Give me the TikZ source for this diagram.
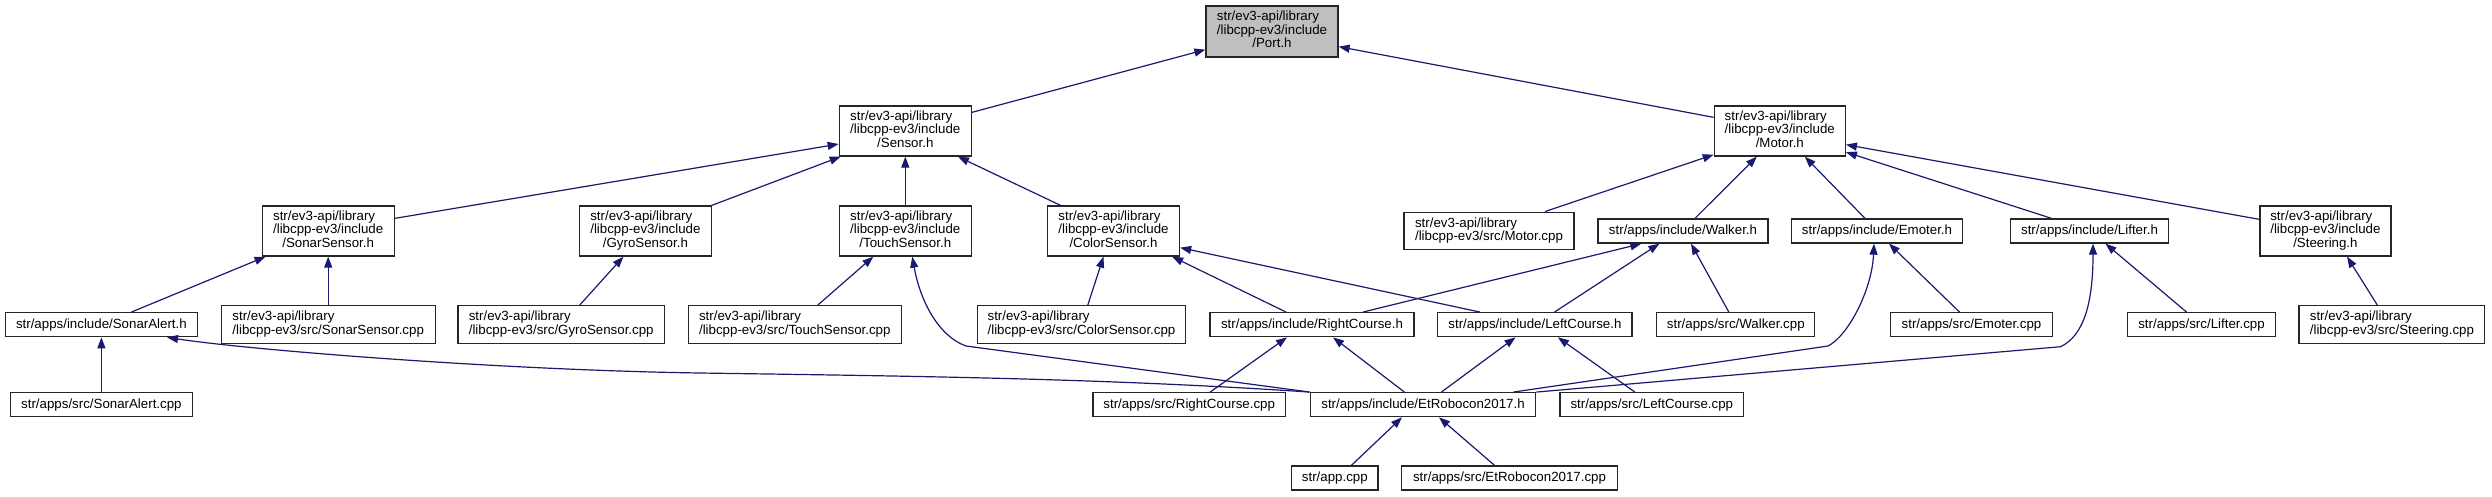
\documentclass[tikz,border=0pt]{standalone}
\usepackage{fontspec}
\setmainfont{Liberation Sans}
\usetikzlibrary{arrows.meta,calc}
\definecolor{edgeblue}{RGB}{25,25,112}
\definecolor{portgray}{RGB}{191,191,191}
\newcommand{\boxthree}[3]{\begin{tabular}{@{}l@{}}#1\\#2\\\multicolumn{1}{@{}c@{}}{#3}\end{tabular}}
\newcommand{\boxtwo}[2]{\begin{tabular}{@{}l@{}}#1\\\multicolumn{1}{@{}c@{}}{#2}\end{tabular}}
\begin{document}
\begin{tikzpicture}[x=1pt,y=-1pt,
  fnode/.style={draw=black!85, line width=1.3pt, fill=white, inner sep=0pt, rectangle,
    font=\fontsize{13.3}{13.3}\selectfont, text=black},
  three/.style={fnode, minimum height=50pt},
  two/.style={fnode, minimum height=37.6pt},
  one/.style={fnode, minimum height=24pt},
  edge/.style={draw=edgeblue, line width=1.2pt, -{Triangle[length=11pt,width=8pt]}}]
\useasboundingbox (0,0) rectangle (2492,496);
\fill[white] (0,0) rectangle (2492,496);
% nodes
\node[three, fill=portgray, minimum width=132pt, minimum height=51pt] (port) at (1272,31.5) {\boxthree{str/ev3-api/library}{/libcpp-ev3/include}{/Port.h}};
\node[three, minimum width=132pt] (sensor) at (905.3,131) {\boxthree{str/ev3-api/library}{/libcpp-ev3/include}{/Sensor.h}};
\node[three, minimum width=131pt] (motor) at (1779.8,131) {\boxthree{str/ev3-api/library}{/libcpp-ev3/include}{/Motor.h}};
\node[three, minimum width=132pt] (sonarS) at (328.2,231) {\boxthree{str/ev3-api/library}{/libcpp-ev3/include}{/SonarSensor.h}};
\node[three, minimum width=131.5pt] (gyroS) at (645.4,231) {\boxthree{str/ev3-api/library}{/libcpp-ev3/include}{/GyroSensor.h}};
\node[three, minimum width=132pt] (touchS) at (905.3,231) {\boxthree{str/ev3-api/library}{/libcpp-ev3/include}{/TouchSensor.h}};
\node[three, minimum width=132pt] (colorS) at (1113.5,231) {\boxthree{str/ev3-api/library}{/libcpp-ev3/include}{/ColorSensor.h}};
\node[two, minimum width=170pt] (motorcpp) at (1489,231) {\boxtwo{str/ev3-api/library}{/libcpp-ev3/src/Motor.cpp}};
\node[one, minimum width=170pt] (walker) at (1683,231) {str/apps/include/Walker.h};
\node[one, minimum width=171.5pt] (emoter) at (1877,231) {str/apps/include/Emoter.h};
\node[one, minimum width=158.3pt] (lifter) at (2089.5,231) {str/apps/include/Lifter.h};
\node[three, minimum width=131pt] (steering) at (2325.4,231) {\boxthree{str/ev3-api/library}{/libcpp-ev3/include}{/Steering.h}};
\node[one, minimum width=192pt] (sonarAlert) at (101.4,324.7) {str/apps/include/SonarAlert.h};
\node[two, minimum width=214pt] (sonarcpp) at (328.2,324.5) {\boxtwo{str/ev3-api/library}{/libcpp-ev3/src/SonarSensor.cpp}};
\node[two, minimum width=206.4pt] (gyrocpp) at (561.2,324.5) {\boxtwo{str/ev3-api/library}{/libcpp-ev3/src/GyroSensor.cpp}};
\node[two, minimum width=213.3pt] (touchcpp) at (794.8,324.5) {\boxtwo{str/ev3-api/library}{/libcpp-ev3/src/TouchSensor.cpp}};
\node[two, minimum width=208.5pt] (colorcpp) at (1081.5,324.5) {\boxtwo{str/ev3-api/library}{/libcpp-ev3/src/ColorSensor.cpp}};
\node[one, minimum width=203.8pt] (rightH) at (1312,324.7) {str/apps/include/RightCourse.h};
\node[one, minimum width=194.3pt] (leftH) at (1534.9,324.7) {str/apps/include/LeftCourse.h};
\node[one, minimum width=158pt] (walkercpp) at (1735.8,324.7) {str/apps/src/Walker.cpp};
\node[one, minimum width=161.5pt] (emotercpp) at (1971.5,324.7) {str/apps/src/Emoter.cpp};
\node[one, minimum width=148.3pt] (liftercpp) at (2201.5,324.7) {str/apps/src/Lifter.cpp};
\node[two, minimum width=185.8pt] (steeringcpp) at (2391.9,324.5) {\boxtwo{str/ev3-api/library}{/libcpp-ev3/src/Steering.cpp}};
\node[one, minimum width=181.6pt] (sonarAlertcpp) at (101.4,404.7) {str/apps/src/SonarAlert.cpp};
\node[one, minimum width=192.2pt] (rightcpp) at (1189.2,404.7) {str/apps/src/RightCourse.cpp};
\node[one, minimum width=225.5pt] (etH) at (1423,404.7) {str/apps/include/EtRobocon2017.h};
\node[one, minimum width=183.6pt] (leftcpp) at (1651.8,404.7) {str/apps/src/LeftCourse.cpp};
\node[one, minimum width=86.3pt] (appcpp) at (1334.8,478) {str/app.cpp};
\node[one, minimum width=215.5pt] (etcpp) at (1509.5,478) {str/apps/src/EtRobocon2017.cpp};
% edges
\draw[edge] ($(sensor.north east)+(0,7)$) -- ($(port.south west)+(0,-8)$);
\draw[edge] ($(motor.north west)+(0,12)$) -- ($(port.south east)+(0,-11)$);
\draw[edge] ($(sonarS.north east)+(0,13)$) -- ($(sensor.south west)+(0,-12.6)$);
\draw[edge] (gyroS.north east) -- ($(sensor.south west)+(2,0)$);
\draw[edge] (touchS.north) -- (sensor.south);
\draw[edge] ($(colorS.north)+(-53,0)$) -- ($(sensor.south east)+(-14,0)$);
\draw[edge] ($(motorcpp.north)+(56,0)$) -- ($(motor.south west)+(0,-2)$);
\draw[edge] ($(walker.north)+(12,0)$) -- ($(motor.south)+(-23,0)$);
\draw[edge] ($(emoter.north)+(-12,0)$) -- ($(motor.south)+(25,0)$);
\draw[edge] ($(lifter.north)+(-38,0)$) -- ($(motor.south east)+(0,-4.5)$);
\draw[edge] ($(steering.north west)+(0,14)$) -- ($(motor.south east)+(0,-12)$);
\draw[edge] ($(sonarAlert.north)+(30,0)$) -- ($(sonarS.south west)+(4,0)$);
\draw[edge] (sonarcpp.north) -- (sonarS.south);
\draw[edge] ($(gyrocpp.north)+(18.5,0)$) -- ($(gyroS.south)+(-22,0)$);
\draw[edge] ($(touchcpp.north)+(23,0)$) -- ($(touchS.south)+(-32,0)$);
\draw[edge] ($(colorcpp.north)+(6.3,0)$) -- ($(colorS.south)+(-10,0)$);
\draw[edge] ($(rightH.north)+(-26,0)$) -- ($(colorS.south east)+(-8,0)$);
\draw[edge] ($(leftH.north)+(-55,0)$) -- ($(colorS.south east)+(0,-9)$);
\draw[edge] ($(rightH.north)+(51,0)$) -- ($(walker.south west)+(44,0)$);
\draw[edge] ($(leftH.north)+(19.6,0)$) -- ($(walker.south west)+(62,0)$);
\draw[edge] ($(walkercpp.north)+(-7,0)$) -- ($(walker.south)+(8,0)$);
\draw[edge] ($(emotercpp.north)+(-12,0)$) -- ($(emoter.south)+(12,0)$);
\draw[edge] ($(liftercpp.north)+(-15,0)$) -- ($(lifter.south)+(16,0)$);
\draw[edge] ($(steeringcpp.north)+(-14.6,0)$) -- ($(steering.south)+(21.6,0)$);
\draw[edge] (sonarAlertcpp.north) -- (sonarAlert.south);
\draw[edge] ($(rightcpp.north)+(21,0)$) -- ($(rightH.south)+(-25,0)$);
\draw[edge] ($(etH.north)+(-18.6,0)$) -- ($(rightH.south)+(21,0)$);
\draw[edge] ($(etH.north)+(18.4,0)$) -- ($(leftH.south)+(-19.4,0)$);
\draw[edge] ($(leftcpp.north)+(-17,0)$) -- ($(leftH.south)+(23,0)$);
\draw[edge] ($(appcpp.north)+(16.6,0)$) -- ($(etH.south)+(-21,0)$);
\draw[edge] ($(etcpp.north)+(-15,0)$) -- ($(etH.south)+(16,0)$);
% curved edges from EtRobocon2017.h
\draw[edge] (etH.north west) -- (966,346) .. controls (938,336) and (920,300) .. ($(touchS.south)+(7,0)$);
\draw[edge] (etH.north west) .. controls (1100,378) and (900,376) .. (700,373) .. controls (500,370) and (250,350) .. ($(sonarAlert.south east)+(-31,0)$);
\draw[edge] ($(etH.north east)+(-23,0)$) -- (1828,346) .. controls (1848,336) and (1872,290) .. ($(emoter.south)+(-3,0)$);
\draw[edge] (etH.north east) -- (2060.6,346.7) .. controls (2085,335) and (2093,300) .. ($(lifter.south)+(3.5,0)$);
\end{tikzpicture}
\end{document}
